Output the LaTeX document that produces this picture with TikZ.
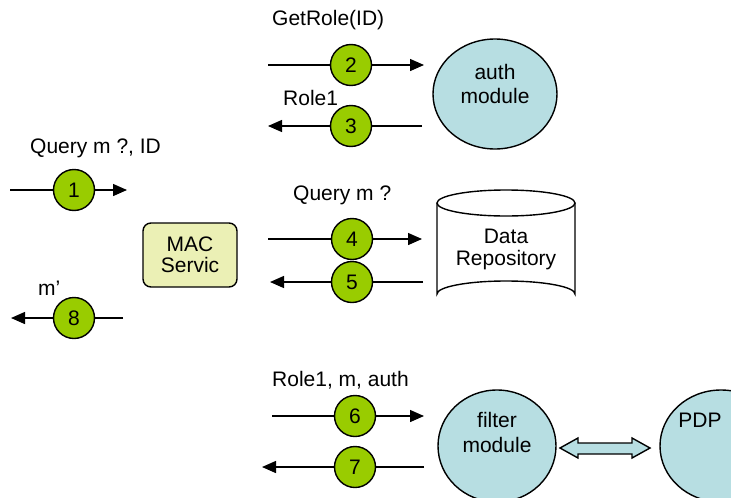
\documentclass[tikz,border=0pt]{standalone}
\usepackage{fontspec}
\setmainfont{Liberation Sans}
\usetikzlibrary{arrows.meta,shapes.geometric}
\definecolor{stepgreen}{HTML}{99CC00}
\definecolor{modcyan}{HTML}{B7DEE2}
\definecolor{macyellow}{HTML}{EBF0B5}
\tikzset{
  every node/.style={font=\fontsize{21}{24}\selectfont},
  flow/.style={line width=1.4pt,-{Triangle[length=14pt,width=12pt]}},
  stepmark/.style={circle,draw,line width=1.4pt,fill=stepgreen,minimum size=41pt,inner sep=0pt},
  module/.style={ellipse,draw,line width=1.4pt,fill=modcyan,align=center,inner sep=0pt},
  lbl/.style={anchor=west,inner sep=0pt},
}
\begin{document}
\begin{tikzpicture}[x=1pt,y=-1pt]
\useasboundingbox (0,0) rectangle (731,498);

% service box
\node[draw,line width=1.4pt,rounded corners=8pt,fill=macyellow,minimum width=94pt,minimum height=64pt,align=center] (mac) at (190,255) {MAC\\[-3pt]Servic};

% modules
\node[module,minimum width=124pt,minimum height=110pt] (auth) at (495,94) {};
\node at (495,72) {auth};
\node at (495,96) {module};

\node[module,minimum width=118pt,minimum height=112pt] (filter) at (497,446) {};
\node at (497,420) {filter};
\node at (497,445) {module};

\node[module,minimum width=122pt,minimum height=112pt] (pdp) at (721,446) {};
\node at (700,420) {PDP};

% data repository cylinder
\fill[white] (437,203) -- (437,294) arc[start angle=180,end angle=360,x radius=69,y radius=13] -- (575,203) -- cycle;
\draw[line width=1.4pt,fill=white] (506,203) ellipse[x radius=69,y radius=13];
\draw[line width=1.4pt] (437,203) -- (437,294) arc[start angle=180,end angle=360,x radius=69,y radius=13] -- (575,203);
\node (repo) at (506,248) {};
\node at (506,236) {Data};
\node at (506,260) {Repository};

% bidirectional link between filter module and PDP
\filldraw[line width=1.4pt,fill=modcyan,draw=black]
  (560,448) -- (578,438) -- (578,443) -- (632,443) -- (632,438) -- (650,448)
  -- (632,458) -- (632,454) -- (578,454) -- (578,458) -- cycle;

% message end points
\coordinate (s1) at (10,190);   \coordinate (e1) at (127,190);
\coordinate (s8) at (123,318);  \coordinate (e8) at (11,318);
\coordinate (s2) at (268,65);   \coordinate (e2) at (424,65);
\coordinate (s3) at (422,126);  \coordinate (e3) at (268,126);
\coordinate (s4) at (268,239);  \coordinate (e4) at (422,239);
\coordinate (s5) at (423,282);  \coordinate (e5) at (270,282);
\coordinate (s6) at (272,416);  \coordinate (e6) at (424,416);
\coordinate (s7) at (424,467);  \coordinate (e7) at (262,467);

\foreach \k in {1,...,8} { \draw[flow] (s\k) -- (e\k); }

% numbered steps
\node[stepmark] (n1) at (74,190) {1};
\node[stepmark] (n2) at (351,65) {2};
\node[stepmark] (n3) at (351,126) {3};
\node[stepmark] (n4) at (352,239) {4};
\node[stepmark] (n5) at (352,282) {5};
\node[stepmark] (n6) at (355,416) {6};
\node[stepmark] (n7) at (355,467) {7};
\node[stepmark] (n8) at (74,318) {8};

% message labels
\node[lbl] (l1) at (30,148) {Query m ?, ID};
\node[lbl] (l2) at (272,20) {GetRole(ID)};
\node[lbl] (l3) at (283,98) {Role1};
\node[lbl] (l4) at (293,195) {Query m ?};
\node[lbl] (l6) at (272,380) {Role1, m, auth};
\node[lbl] (l8) at (38,288) {m’};
\end{tikzpicture}
\end{document}
